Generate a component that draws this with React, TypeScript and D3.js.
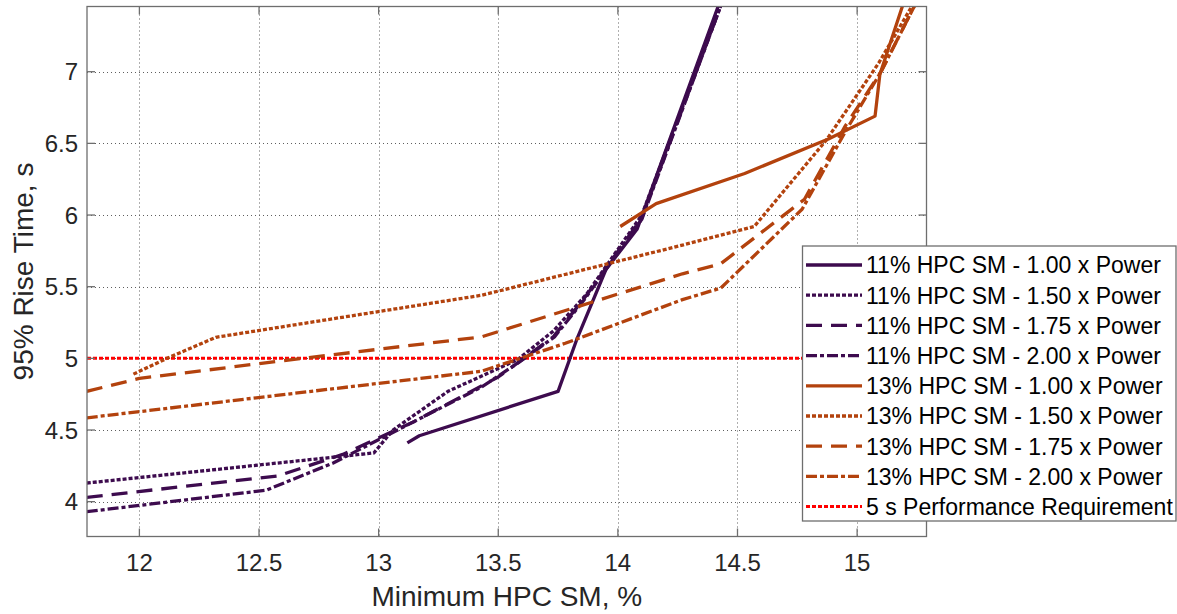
import * as d3 from "d3";

// Minimum HPC SM (%) and 95% rise time (s)
const p100X = [13.12, 13.17, 13.75, 13.83, 13.95, 14.08, 14.42];
const p100Y = [4.41, 4.46, 4.77, 5.14, 5.62, 5.9, 7.46];
const p150X = [11.78, 12.98, 13.06, 13.29, 13.58, 13.73, 13.87, 14.1, 14.43];
const p150Y = [4.13, 4.34, 4.5, 4.77, 4.99, 5.19, 5.45, 6.0, 7.46];
const p175X = [11.78, 12.58, 12.85, 13.15, 13.5, 13.73, 13.86, 14.1, 14.43];
const p175Y = [4.03, 4.18, 4.33, 4.56, 4.87, 5.15, 5.42, 5.98, 7.46];
const p200X = [11.78, 12.53, 12.81, 13.43, 13.58, 13.735, 13.86, 14.1, 14.43];
const p200Y = [3.93, 4.08, 4.27, 4.8, 4.965, 5.15, 5.41, 5.97, 7.46];

const o100X = [14.01, 14.16, 14.53, 14.88, 15.075, 15.095, 15.19];
const o100Y = [5.92, 6.08, 6.29, 6.53, 6.69, 6.98, 7.46];
const o150X = [11.975, 12.115, 12.32, 13.43, 14.27, 14.57, 14.87, 15.09, 15.23];
const o150Y = [4.89, 5.0, 5.147, 5.44, 5.79, 5.92, 6.52, 7.06, 7.46];
const o175X = [11.78, 12.0, 12.51, 13.43, 14.27, 14.43, 14.78, 14.95, 15.1, 15.24];
const o175Y = [4.77, 4.86, 4.965, 5.15, 5.59, 5.66, 6.11, 6.62, 7.0, 7.46];
const o200X = [11.78, 13.43, 13.78, 14.27, 14.43, 14.77, 14.95, 15.1, 15.24];
const o200Y = [4.585, 4.91, 5.105, 5.41, 5.49, 6.04, 6.58, 7.0, 7.46];

const requirement = 5;

const xTicks = [12, 12.5, 13, 13.5, 14, 14.5, 15];
const yTicks = [4, 4.5, 5, 5.5, 6, 6.5, 7];

const PURPLE = "#3d0b4e";
const ORANGE = "#b3420d";
const DOT = "4,2";
const DASH = "16,9";
const DASHDOT = "11,3,4,3";

const series = [
  { name: "11% HPC SM - 1.00 x Power", xs: p100X, ys: p100Y, color: PURPLE, dash: null },
  { name: "11% HPC SM - 1.50 x Power", xs: p150X, ys: p150Y, color: PURPLE, dash: DOT },
  { name: "11% HPC SM - 1.75 x Power", xs: p175X, ys: p175Y, color: PURPLE, dash: DASH },
  { name: "11% HPC SM - 2.00 x Power", xs: p200X, ys: p200Y, color: PURPLE, dash: DASHDOT },
  { name: "13% HPC SM - 1.00 x Power", xs: o100X, ys: o100Y, color: ORANGE, dash: null },
  { name: "13% HPC SM - 1.50 x Power", xs: o150X, ys: o150Y, color: ORANGE, dash: DOT },
  { name: "13% HPC SM - 1.75 x Power", xs: o175X, ys: o175Y, color: ORANGE, dash: DASH },
  { name: "13% HPC SM - 2.00 x Power", xs: o200X, ys: o200Y, color: ORANGE, dash: DASHDOT },
];

const W = 1177;
const H = 614;
const L = 87, R = 926.5, T = 6.5, B = 536.5;
const FONT = "'Liberation Sans', Arial, Helvetica, sans-serif";

export default function App() {
  const x = d3.scaleLinear().domain([11.781, 15.29]).range([L, R]);
  const y = d3.scaleLinear().domain([3.757, 7.455]).range([B, T]);

  const line = d3
    .line<[number, number]>()
    .x((d) => x(d[0]))
    .y((d) => y(d[1]));

  const legX = 802.5, legY = 246, legW = 373.5, legH = 275;
  const rowH = 30.2;

  return (
    <svg
      width={W}
      height={H}
      style={{ position: "absolute", left: 0, top: 0, background: "#fff" }}
      fontFamily={FONT}
    >
      <defs>
        <clipPath id="plot">
          <rect x={L} y={T} width={R - L} height={B - T} />
        </clipPath>
      </defs>
      <rect x={0} y={0} width={W} height={H} fill="#fff" />

      {/* grid */}
      <g stroke="#444" strokeWidth={1} strokeDasharray="1,3" opacity={0.85}>
        {xTicks.map((t) => (
          <line key={"gx" + t} x1={Math.round(x(t)) + 0.5} x2={Math.round(x(t)) + 0.5} y1={T} y2={B} />
        ))}
        {yTicks.map((t) => (
          <line key={"gy" + t} x1={L} x2={R} y1={Math.round(y(t)) + 0.5} y2={Math.round(y(t)) + 0.5} />
        ))}
      </g>

      {/* requirement */}
      <line
        x1={L}
        x2={R}
        y1={y(requirement)}
        y2={y(requirement)}
        stroke="#ff0000"
        strokeWidth={3}
        strokeDasharray="4,2"
      />

      {/* series */}
      <g clipPath="url(#plot)" fill="none">
        {series.map((s) => (
          <path
            key={s.name}
            d={line(s.xs.map((v, i) => [v, s.ys[i]] as [number, number])) || ""}
            stroke={s.color}
            strokeWidth={3.3}
            strokeDasharray={s.dash || undefined}
            strokeLinejoin="round"
          />
        ))}
      </g>

      {/* axes box + inward ticks */}
      <g stroke="#6e6e6e" strokeWidth={1.3} fill="none">
        <rect x={L} y={T} width={R - L} height={B - T} />
        {xTicks.map((t) => (
          <g key={"tx" + t}>
            <line x1={x(t)} x2={x(t)} y1={B} y2={B - 8} />
            <line x1={x(t)} x2={x(t)} y1={T} y2={T + 8} />
          </g>
        ))}
        {yTicks.map((t) => (
          <g key={"ty" + t}>
            <line x1={L} x2={L + 8} y1={y(t)} y2={y(t)} />
            <line x1={R} x2={R - 8} y1={y(t)} y2={y(t)} />
          </g>
        ))}
      </g>

      {/* tick labels */}
      <g fill="#262626" fontSize={24}>
        {xTicks.map((t) => (
          <text key={"lx" + t} x={x(t)} y={571} textAnchor="middle">
            {t}
          </text>
        ))}
        {yTicks.map((t) => (
          <text key={"ly" + t} x={78} y={y(t) + 8.6} textAnchor="end">
            {t}
          </text>
        ))}
      </g>

      {/* axis titles */}
      <text x={(L + R) / 2} y={606} textAnchor="middle" fontSize={28} fill="#262626">
        Minimum HPC SM, %
      </text>
      <text
        transform={`translate(33, ${(T + B) / 2}) rotate(-90)`}
        textAnchor="middle"
        fontSize={28}
        fill="#262626"
      >
        95% Rise Time, s
      </text>

      {/* legend */}
      <rect x={legX} y={legY} width={legW} height={legH} fill="#fff" stroke="#6e6e6e" strokeWidth={1.3} />
      {series.map((s, i) => {
        const cy = legY + 19 + i * rowH;
        return (
          <g key={"leg" + s.name}>
            <line x1={806} x2={862} y1={cy} y2={cy} stroke={s.color} strokeWidth={3.3} strokeDasharray={s.dash || undefined} />
            <text x={866} y={cy + 8.3} fontSize={23} fill="#000">
              {s.name}
            </text>
          </g>
        );
      })}
      {(() => {
        const cy = legY + 19 + 8 * rowH;
        return (
          <g>
            <line x1={806} x2={862} y1={cy} y2={cy} stroke="#ff0000" strokeWidth={3} strokeDasharray="4,2" />
            <text x={866} y={cy + 8.3} fontSize={23} fill="#000">
              5 s Performance Requirement
            </text>
          </g>
        );
      })()}
    </svg>
  );
}
